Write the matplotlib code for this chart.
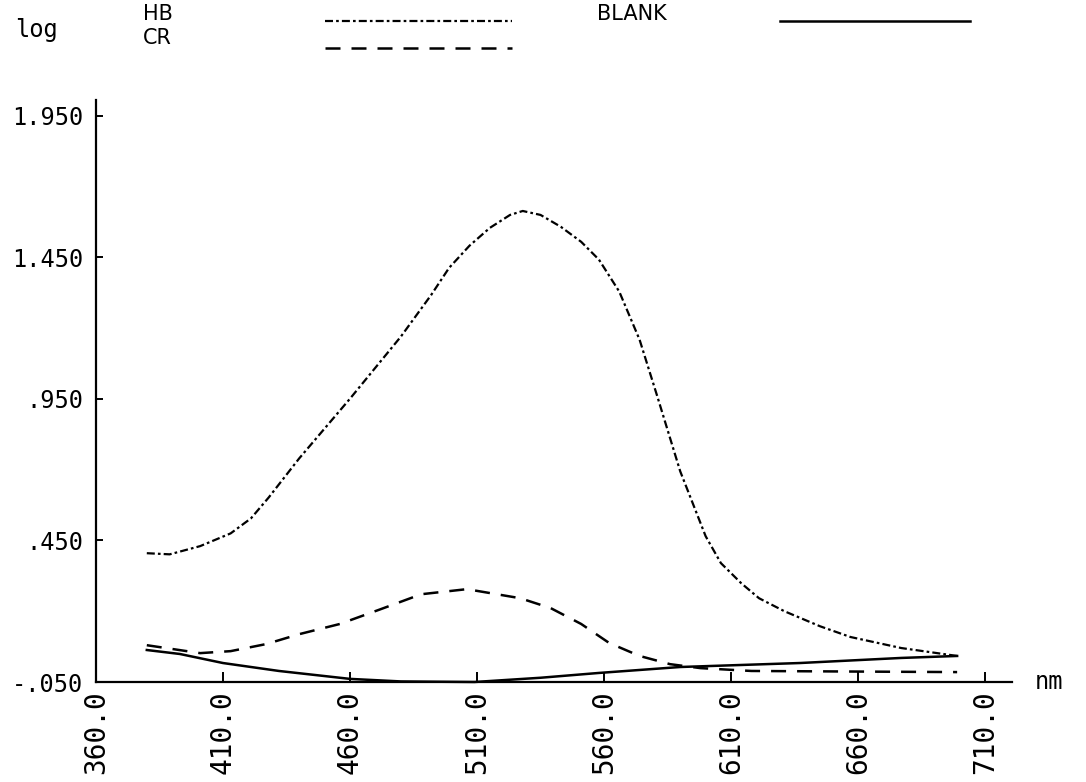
import matplotlib.pyplot as plt
from matplotlib.lines import Line2D

# absorbance spectra
hb_nm = [380, 389, 401, 413, 421, 428, 440, 460, 480, 492, 499, 507, 515,
         523, 528, 535, 543, 551, 558, 566, 574, 581, 590, 600, 606, 614,
         621, 631, 645, 657, 677, 699]
hb_log = [0.405, 0.401, 0.430, 0.475, 0.528, 0.602, 0.740, 0.951, 1.170,
          1.318, 1.413, 1.491, 1.554, 1.600, 1.614, 1.600, 1.558, 1.505,
          1.442, 1.329, 1.159, 0.958, 0.694, 0.465, 0.370, 0.299, 0.246,
          0.200, 0.147, 0.109, 0.070, 0.042]

cr_nm = [380, 401, 413, 427, 440, 456, 472, 488, 506, 527, 539, 551, 562,
         574, 586, 598, 618, 657, 699]
cr_log = [0.080, 0.052, 0.059, 0.084, 0.119, 0.155, 0.207, 0.260, 0.278,
          0.246, 0.211, 0.155, 0.088, 0.042, 0.013, -0.001, -0.011, -0.013,
          -0.015]

blank_nm = [380, 393, 410, 432, 460, 480, 509, 535, 558, 590, 637, 677, 699]
blank_log = [0.063, 0.049, 0.017, -0.011, -0.039, -0.048, -0.050, -0.035,
             -0.018, 0.003, 0.017, 0.035, 0.042]

x_ticks = [360, 410, 460, 510, 560, 610, 660, 710]
x_labels = ["360.0", "410.0", "460.0", "510.0", "560.0", "610.0", "660.0", "710.0"]
y_ticks = [-0.05, 0.45, 0.95, 1.45, 1.95]
y_labels = ["-.050", ".450", ".950", "1.450", "1.950"]

plt.rcParams["font.family"] = ["DejaVu Sans Mono"]

fig = plt.figure(figsize=(10.86, 7.82), dpi=100)
ax = fig.add_axes([96 / 1086, 1 - 682 / 782, 916 / 1086, 582 / 782])

hb_style = dict(color="black", lw=1.6, dashes=[3.6, 1.4, 1.2, 1.4])
cr_style = dict(color="black", lw=1.8, dashes=[6.0, 4.4])
blank_style = dict(color="black", lw=1.8)

ax.plot(hb_nm, hb_log, clip_on=False, **hb_style)
ax.plot(cr_nm, cr_log, clip_on=False, **cr_style)
ax.plot(blank_nm, blank_log, clip_on=False, **blank_style)

ax.set_xlim(360, 720.6)
ax.set_ylim(-0.05, 2.006)
ax.spines["top"].set_visible(False)
ax.spines["right"].set_visible(False)
for s in ("left", "bottom"):
    ax.spines[s].set_linewidth(1.6)

ax.set_xticks(x_ticks)
ax.set_xticklabels(x_labels, rotation=90)
ax.set_yticks(y_ticks)
ax.set_yticklabels(y_labels)
ax.tick_params(axis="x", direction="in", length=7, width=1.4, labelsize=20, pad=6)
ax.tick_params(axis="y", direction="in", length=5, width=1.4, labelsize=17, pad=9)

ax.set_xlabel("nm", fontsize=17)
ax.xaxis.set_label_coords(1.04, 0.0)
ax.xaxis.label.set_va("center")
ax.set_ylabel("log", fontsize=17, rotation=0, ha="left", va="center")
ax.yaxis.set_label_coords(-0.088, 1.12)

# legend across the top, as on the plotter sheet
def px(x, y):
    return x / 1086, 1 - y / 782

hdr = dict(fontsize=15, ha="left", va="center", family="DejaVu Sans")
fig.text(*px(143, 14), "HB", **hdr)
fig.text(*px(143, 38), "CR", **hdr)
fig.text(*px(597, 14), "BLANK", **hdr)

for (x0, x1, y), style in [((325, 512, 21), hb_style),
                           ((325, 512, 48), cr_style),
                           ((780, 970, 21), blank_style)]:
    (a, b), (c, _) = px(x0, y), px(x1, y)
    fig.add_artist(Line2D([a, c], [b, b], transform=fig.transFigure, **style))

fig.savefig("out.png", dpi=100)
